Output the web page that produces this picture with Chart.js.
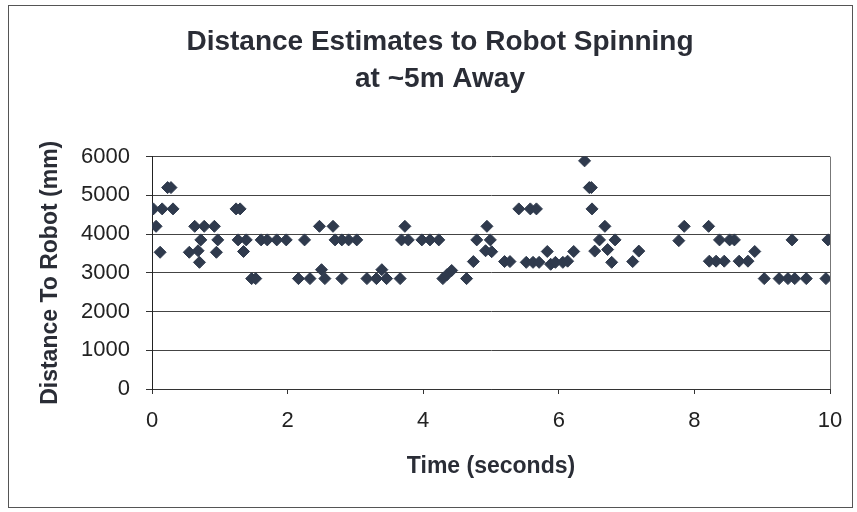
<!DOCTYPE html>
<html><head><meta charset="utf-8">
<script src="https://cdn.jsdelivr.net/npm/chart.js@4/dist/chart.umd.min.js"></script>
<style>html,body{margin:0;padding:0;background:#fff;}canvas{display:block;}</style>
</head><body>
<canvas id="c" width="857" height="512"></canvas>
<script>
const chartTitle = ['Distance Estimates to Robot Spinning', 'at ~5m Away'];
const xTitle = 'Time (seconds)';
const yTitle = 'Distance To Robot (mm)';
const xRange = [0, 10];
const xStep = 2;
const yRange = [0, 6000];
const yStep = 1000;

const times = [
  0.02, 0.06, 0.12, 0.15, 0.23, 0.28, 0.31, 0.55, 0.63, 0.68,
  0.70, 0.72, 0.77, 0.92, 0.95, 0.97, 1.24, 1.27, 1.30, 1.35,
  1.39, 1.47, 1.53, 1.61, 1.70, 1.84, 1.98, 2.16, 2.25, 2.33,
  2.47, 2.50, 2.55, 2.67, 2.70, 2.80, 2.80, 2.90, 3.02, 3.17,
  3.31, 3.39, 3.46, 3.66, 3.68, 3.73, 3.78, 3.98, 4.10, 4.23,
  4.29, 4.35, 4.42, 4.64, 4.74, 4.79, 4.92, 4.94, 4.99, 5.01,
  5.20, 5.28, 5.41, 5.52, 5.58, 5.62, 5.67, 5.71, 5.83, 5.88,
  5.95, 6.06, 6.13, 6.22, 6.38, 6.45, 6.48, 6.49, 6.53, 6.60,
  6.68, 6.72, 6.78, 6.83, 7.09, 7.18, 7.77, 7.85, 8.21, 8.22,
  8.32, 8.37, 8.44, 8.52, 8.59, 8.66, 8.79, 8.89, 9.03, 9.25,
  9.38, 9.44, 9.48, 9.65, 9.94, 9.97
];
const distances = [
  4650, 4200, 3530, 4650, 5200, 5200, 4650, 3530, 4200, 3570,
  3270, 3850, 4200, 4200, 3530, 3850, 4650, 3850, 4650, 3550,
  3850, 2850, 2850, 3850, 3850, 3850, 3850, 2850, 3850, 2850,
  4200, 3080, 2850, 4200, 3850, 3850, 2850, 3850, 3850, 2850,
  2850, 3080, 2850, 2850, 3850, 4200, 3850, 3850, 3850, 3850,
  2850, 2950, 3060, 2850, 3290, 3850, 3570, 4200, 3850, 3545,
  3290, 3290, 4650, 3270, 4650, 3270, 4650, 3270, 3550, 3220,
  3270, 3270, 3300, 3550, 5890, 5200, 5200, 4650, 3560, 3850,
  4200, 3600, 3270, 3850, 3290, 3560, 3830, 4200, 4200, 3300,
  3300, 3850, 3300, 3850, 3850, 3300, 3300, 3550, 2850, 2850,
  2850, 3850, 2850, 2850, 2850, 3850
];

const points = times.map((t, i) => ({x: t, y: distances[i]}));
const FONT = "'Liberation Sans', Arial, sans-serif";
const INK = '#2a2d36';
const MARK = '#2f3a4d';

const framePlugin = {
  id: 'frame',
  beforeDraw(chart) {
    const ctx = chart.ctx;
    ctx.save();
    ctx.fillStyle = '#ffffff';
    ctx.fillRect(0, 0, chart.width, chart.height);
    ctx.strokeStyle = '#555';
    ctx.lineWidth = 1;
    ctx.strokeRect(8.5, 5.5, chart.width - 13, chart.height - 10);
    ctx.restore();
  },
  beforeDatasetsDraw(chart) {
    const a = chart.chartArea, ctx = chart.ctx;
    ctx.save();
    ctx.strokeStyle = '#777';
    ctx.lineWidth = 1;
    ctx.beginPath();
    ctx.moveTo(Math.round(a.right) + 0.5, a.top);
    ctx.lineTo(Math.round(a.right) + 0.5, a.bottom);
    ctx.stroke();
    ctx.restore();
  }
};

new Chart(document.getElementById('c'), {
  type: 'scatter',
  data: {
    datasets: [{
      data: points,
      pointStyle: 'rectRot',
      pointRadius: 6,
      pointHoverRadius: 6,
      backgroundColor: MARK,
      borderColor: MARK,
      borderWidth: 1
    }]
  },
  options: {
    responsive: false,
    animation: false,
    devicePixelRatio: 1,
    layout: {padding: {left: 50, right: 27, top: 0, bottom: 0}},
    plugins: {
      legend: {display: false},
      tooltip: {enabled: false},
      title: {
        display: true,
        text: chartTitle,
        color: INK,
        font: {family: FONT, size: 28, weight: 'bold', lineHeight: 1.35},
        padding: {top: 23, bottom: 58}
      }
    },
    scales: {
      x: {
        type: 'linear',
        min: xRange[0], max: xRange[1],
        afterFit(scale) { scale.height = 123; },
        ticks: {stepSize: xStep, color: '#222', font: {family: FONT, size: 22}, padding: 14, maxRotation: 0},
        grid: {drawOnChartArea: false, drawTicks: true, tickLength: 5, tickColor: '#333'},
        border: {color: '#333', width: 1},
        title: {display: true, text: xTitle, color: INK,
          font: {family: FONT, size: 23, weight: 'bold', lineHeight: 1.2},
          padding: {top: 0, bottom: 32}}
      },
      y: {
        type: 'linear',
        min: yRange[0], max: yRange[1],
        afterFit(scale) { scale.width = 102; },
        ticks: {stepSize: yStep, color: '#222', font: {family: FONT, size: 22}, padding: 16,
          callback: v => String(v)},
        grid: {color: '#444', lineWidth: 1, drawTicks: true, tickLength: 6, tickColor: '#333'},
        border: {color: '#222', width: 1},
        title: {display: true, text: yTitle, color: INK,
          font: {family: FONT, size: 23, weight: 'bold', lineHeight: 1.2},
          padding: {top: -13, bottom: 0}}
      }
    }
  },
  plugins: [framePlugin]
});
</script>
</body></html>
